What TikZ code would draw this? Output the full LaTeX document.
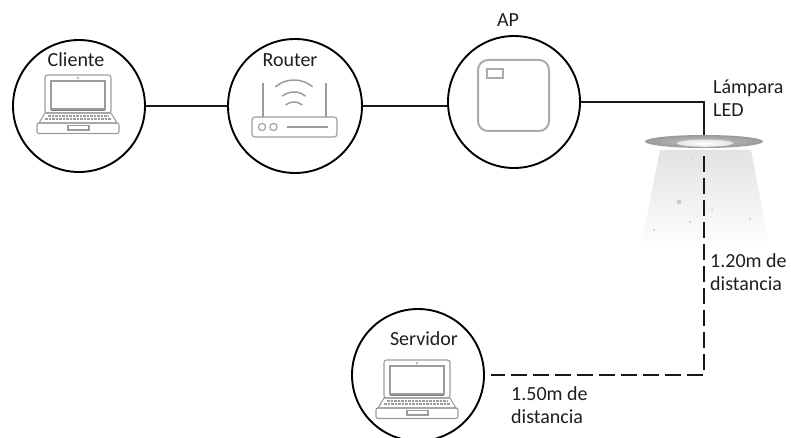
\documentclass[tikz,border=0pt]{standalone}
\usepackage{fontspec}
\setmainfont{Carlito}
\usetikzlibrary{calc}
\definecolor{icongray}{HTML}{9C9C9C}
\definecolor{inkgray}{HTML}{1E1E1E}
\begin{document}
\begin{tikzpicture}[x=1pt,y=-1pt,
  every node/.style={inner sep=0pt},
  device/.style={circle,draw=black,line width=1.9pt,minimum size=132pt},
  label text/.style={font=\fontsize{20}{23}\selectfont,text=inkgray},
  multiline/.style={label text,align=left,anchor=base west},
  link/.style={line width=1.2pt,draw=black!90},
  distline/.style={line width=1.5pt,draw=black!90,dash pattern=on 16pt off 6pt},
  icon/.style={draw=icongray,line width=1.1pt},
  laptop/.pic={
    % screen frame, display and camera
    \draw[icon,rounded corners=2.5pt] (-33,-29) rectangle (33,9);
    \draw[icon] (-27,-23) rectangle (27,5);
    \draw[icon,line width=1.4pt,draw=icongray!80!black] (-27,6.5) -- (27,6.5);
    \fill[icongray] (0,-26) circle (1.1);
    % keyboard deck with rows of keys
    \draw[icon] (-33,9) -- (33,9) -- (39,19) -- (-39,19) -- cycle;
    \draw[icon,line width=1.5pt,dash pattern=on 2.5pt off 1pt] (-30,11.8) -- (30,11.8);
    \draw[icon,line width=1.5pt,dash pattern=on 2.5pt off 1pt] (-33,15) -- (33,15);
    % base and trackpad
    \draw[icon,rounded corners=2pt] (-41,19) rectangle (41,29.5);
    \draw[icon] (-10,21.5) rectangle (11,26);
  }
]
\useasboundingbox (0,0) rectangle (791,438);

% devices
\node[device] (cli) at (79,106) {};
\node[device,minimum size=134pt] (rou) at (295,106) {};
\node[device] (ap) at (514,102) {};
\node[device] (srv) at (418,375) {};

% device labels
\node[label text,anchor=base] (clilbl) at (76,67) {Cliente};
\node[label text,anchor=base] (roulbl) at (290,67) {Router};
\node[label text,anchor=base] (aplbl) at (508,27) {AP};
\node[label text,anchor=base] (srvlbl) at (424,345) {Servidor};

% laptops
\pic at (78,104) {laptop};
\pic at (417,389) {laptop};

% router icon
\draw[icon,rounded corners=3pt] (252,117) rectangle (337,137);
\draw[icon] (263,83) -- (263,117);
\draw[icon] (326,83) -- (326,117);
\draw[icon] (262,127) circle (3.6);
\draw[icon] (273.5,127) circle (3.6);
\draw[icon] (287,127) -- (328,127);
\draw[icon,line width=1.5pt] (275.4,86.8) arc[start angle=230,end angle=310,radius=29];
\draw[icon,line width=1.5pt] (282.4,96.2) arc[start angle=230,end angle=310,radius=18];
\draw[icon,line width=1.5pt] (285.6,105) arc[start angle=230,end angle=310,radius=13];

% access point icon
\draw[icon,draw=icongray!85,line width=2pt,rounded corners=10pt] (478,60) rectangle (549,131);
\draw[icon,draw=icongray!85,line width=1.8pt] (487,69) rectangle (503,78);

% LED lamp: light cone, specks and disc
\shade[top color=gray!22,bottom color=white] (660,150) -- (751,150) -- (770,250) -- (640,250) -- cycle;
\foreach \p in {(692,158),(712,210),(690,222),(654,230),(750,219)}
  \fill[gray!45] \p circle (1);
\fill[gray!40] (679,202) circle (2.4);
\shade[inner color=gray!45,outer color=gray!80] (704,141.5) ellipse [x radius=59,y radius=6.5];
\shade[inner color=white,outer color=white!80!gray] (705,143.2) ellipse [x radius=28,y radius=3.6];
\coordinate (lamptop) at (704,135);
\coordinate (lampbeam) at (704,156);
% multi-line labels sit on the baseline of their last line
\node[multiline] (lamplbl) at (713,117) {Lámpara\\LED};

% wired links
\draw[link] (cli.east) -- (rou.west);
\draw[link] (rou.east) -- (rou.east -| ap.west);
\draw[link] (ap.east) -| (lamptop);

% distances to the server
\coordinate (srvend) at ($(srv.east)+(6,0)$);
\draw[distline] (lampbeam) |- (srvend);
\node[multiline] (vdist) at (710,290) {1.20m de\\distancia};
\node[multiline] (hdist) at (511,423) {1.50m de\\distancia};
\end{tikzpicture}
\end{document}
